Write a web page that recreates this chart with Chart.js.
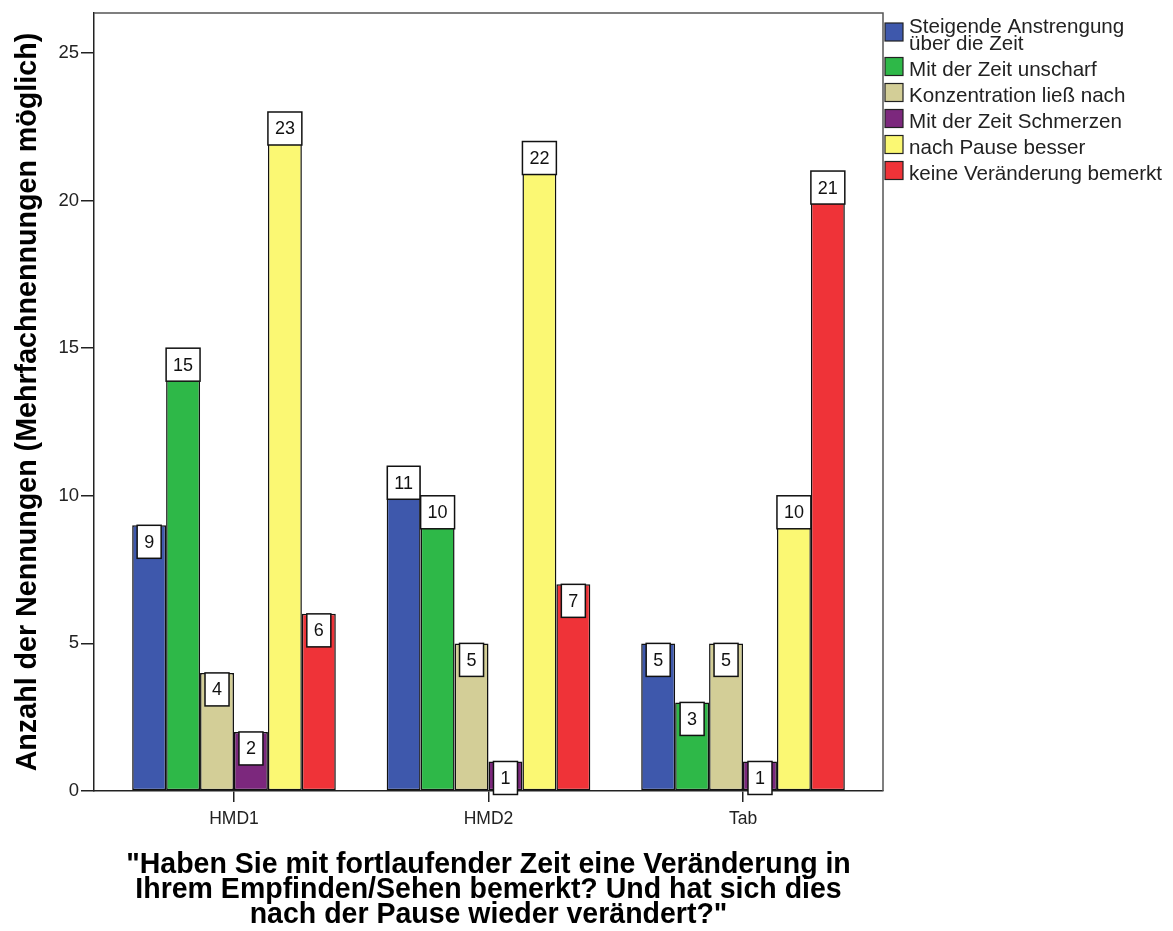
<!DOCTYPE html>
<html>
<head>
<meta charset="utf-8">
<script src="https://cdn.jsdelivr.net/npm/chart.js@4"></script>
<style>
  html, body { margin: 0; padding: 0; background: #fff; }
  #chart { display: block; }
</style>
</head>
<body>
<canvas id="chart" width="1173" height="931"></canvas>
<script>
// Answers per device, multiple answers allowed
const categories = ['HMD1', 'HMD2', 'Tab'];
const seriesNames = [
  'Steigende Anstrengung über die Zeit',
  'Mit der Zeit unscharf',
  'Konzentration ließ nach',
  'Mit der Zeit Schmerzen',
  'nach Pause besser',
  'keine Veränderung bemerkt'
];
const steigend = [9, 11, 5];
const unscharf = [15, 10, 3];
const konzentration = [4, 5, 5];
const schmerzen = [2, 1, 1];
const pauseBesser = [23, 22, 10];
const keineVeraenderung = [6, 7, 21];
const seriesColors = ['#3E58AC', '#2EB848', '#D3CE97', '#7C287D', '#FBF873', '#EF3338'];
const yTicks = [0, 5, 10, 15, 20, 25];
const yTitle = 'Anzahl der Nennungen (Mehrfachnennungen möglich)';
const xTitleLines = [
  '"Haben Sie mit fortlaufender Zeit eine Veränderung in',
  'Ihrem Empfinden/Sehen bemerkt? Und hat sich dies',
  'nach der Pause wieder verändert?"'
];

const FONT = '"Liberation Sans", Arial, sans-serif';
const INK = '#222';

const allSeries = [steigend, unscharf, konzentration, schmerzen, pauseBesser, keineVeraenderung];

// white value boxes hanging from the top of each bar
const valueLabels = {
  id: 'valueLabels',
  afterDatasetsDraw(chart) {
    const ctx = chart.ctx;
    ctx.save();
    ctx.font = '18px ' + FONT;
    ctx.textAlign = 'center';
    ctx.textBaseline = 'middle';
    chart.data.datasets.forEach((ds, di) => {
      chart.getDatasetMeta(di).data.forEach((bar, i) => {
        const txt = String(allSeries[di][i]);
        const w = Math.min(bar.width, ctx.measureText(txt).width + 14);
        const h = 33;
        const x = bar.x - w / 2;
        const y = bar.y;
        ctx.fillStyle = '#fff';
        ctx.fillRect(x, y, w, h);
        ctx.strokeStyle = '#111';
        ctx.lineWidth = 1.5;
        ctx.strokeRect(x, y, w, h);
        ctx.fillStyle = '#111';
        ctx.fillText(txt, bar.x, y + h / 2 + 1);
      });
    });
    ctx.restore();
  }
};

function wrap(ctx, text, maxW) {
  const words = text.split(' ');
  const lines = [];
  let cur = '';
  words.forEach(w => {
    const test = cur ? cur + ' ' + w : w;
    if (cur && ctx.measureText(test).width > maxW) {
      lines.push(cur);
      cur = w;
    } else {
      cur = test;
    }
  });
  if (cur) lines.push(cur);
  return lines;
}

// bold titles, squeezed a little along the text direction
function squeezedText(ctx, text, x, y, sx) {
  ctx.save();
  ctx.translate(x, y);
  ctx.scale(sx, 1);
  ctx.fillText(text, 0, 0);
  ctx.restore();
}

// frame, titles and legend
const decorations = {
  id: 'decorations',
  afterDraw(chart) {
    const ctx = chart.ctx;
    const a = chart.chartArea;
    ctx.save();

    ctx.strokeStyle = '#555';
    ctx.lineWidth = 1.5;
    ctx.beginPath();
    ctx.moveTo(a.left, a.top);
    ctx.lineTo(a.right, a.top);
    ctx.lineTo(a.right, a.bottom);
    ctx.stroke();

    ctx.fillStyle = '#000';
    ctx.textAlign = 'center';
    ctx.textBaseline = 'alphabetic';
    ctx.font = 'bold 30px ' + FONT;

    ctx.save();
    ctx.translate(36, (a.top + a.bottom) / 2);
    ctx.rotate(-Math.PI / 2);
    squeezedText(ctx, yTitle, 0, 0, 0.955);
    ctx.restore();

    const cx = (a.left + a.right) / 2;
    xTitleLines.forEach((line, i) => squeezedText(ctx, line, cx, 873 + i * 25, 0.95));

    // legend
    ctx.font = '20.6px ' + FONT;
    ctx.textAlign = 'left';
    let base = 33;
    seriesNames.forEach((name, i) => {
      const lines = wrap(ctx, name, 258);
      const first = base;
      const last = base + (lines.length - 1) * 17;
      const boxMid = (first - 15 + last) / 2 - 2;
      ctx.fillStyle = seriesColors[i];
      ctx.fillRect(885, boxMid - 9, 18, 18);
      ctx.strokeStyle = '#222';
      ctx.lineWidth = 1.2;
      ctx.strokeRect(885, boxMid - 9, 18, 18);
      ctx.fillStyle = INK;
      lines.forEach((ln, k) => ctx.fillText(ln, 909, first + k * 17));
      base = last + 26;
    });

    ctx.restore();
  }
};

new Chart(document.getElementById('chart'), {
  type: 'bar',
  data: {
    datasets: allSeries.map((vals, i) => ({
      label: seriesNames[i],
      data: vals.map((v, k) => ({ x: k, y: v })),
      backgroundColor: seriesColors[i],
      borderColor: '#111',
      borderWidth: 1.5,
      borderSkipped: false,
      categoryPercentage: 0.8,
      barPercentage: 1.0
    }))
  },
  options: {
    responsive: false,
    animation: false,
    layout: { padding: { top: 8, right: 290, bottom: 0, left: 0 } },
    plugins: { legend: { display: false }, tooltip: { enabled: false } },
    scales: {
      x: {
        type: 'linear',
        min: -0.55,
        max: 2.55,
        offset: false,
        afterBuildTicks: s => { s.ticks = categories.map((c, i) => ({ value: i })); },
        afterFit: s => { s.height = 140; },
        grid: { offset: false, drawOnChartArea: false, drawTicks: true, tickLength: 11, color: INK, lineWidth: 1.5 },
        border: { display: true, color: INK, width: 1.5 },
        ticks: {
          callback: v => categories[v],
          font: { family: FONT, size: 17.5 },
          color: INK,
          padding: 7,
          maxRotation: 0,
          autoSkip: false
        }
      },
      y: {
        min: 0,
        max: 26.35,
        afterBuildTicks: s => { s.ticks = yTicks.map(v => ({ value: v })); },
        afterFit: s => { s.width = 94; },
        grid: { drawOnChartArea: false, drawTicks: true, tickLength: 13, color: INK, lineWidth: 1.5 },
        border: { display: true, color: INK, width: 1.5 },
        ticks: {
          font: { family: FONT, size: 18.5 },
          color: INK,
          padding: 2
        }
      }
    }
  },
  plugins: [valueLabels, decorations]
});
</script>
</body>
</html>
